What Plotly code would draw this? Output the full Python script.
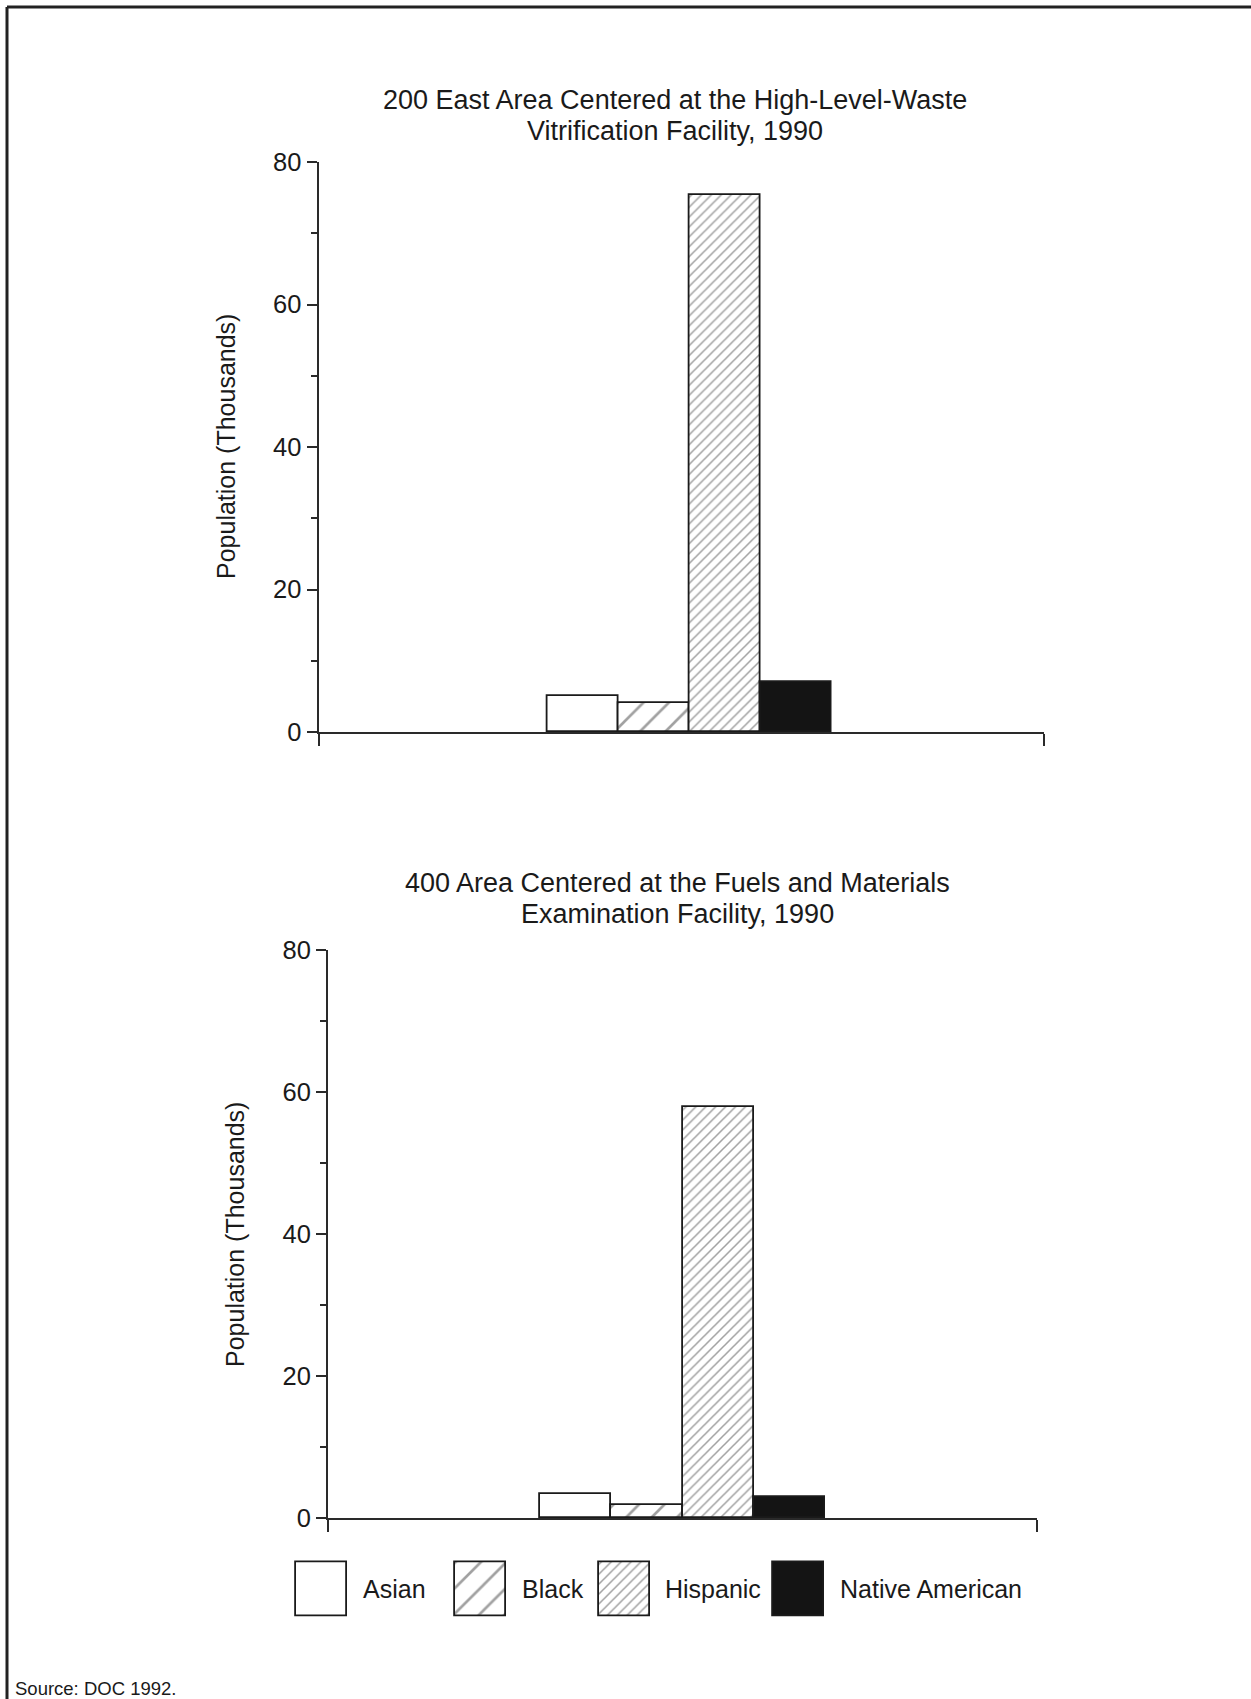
import plotly.graph_objects as go

# ---------------- data ----------------
CATEGORIES = ["Asian", "Black", "Hispanic", "Native American"]
TOP_VALUES = [5.1, 4.1, 75.3, 7.0]       # thousands, 200 East Area
BOTTOM_VALUES = [3.4, 1.8, 57.9, 2.9]    # thousands, 400 Area
Y_TICKS = [0, 20, 40, 60, 80]
TOP_TITLE = ["200 East Area Centered at the High-Level-Waste",
             "Vitrification Facility, 1990"]
BOTTOM_TITLE = ["400 Area Centered at the Fuels and Materials",
                "Examination Facility, 1990"]
Y_TITLE = "Population (Thousands)"
SOURCE = "Source: DOC 1992."

# ---------------- styles ----------------
W, H = 1251, 1699
FONT = "Liberation Sans, Arial, Helvetica, sans-serif"
TXT = "#1a1a1a"
AX = "#2a2a2a"
FILL = ["white", "white", "white", "#141414"]
PAT_SHAPE = ["", "/", "/", ""]
PAT_SIZE = [10, 18, 7, 10]
PAT_SOLID = [0.2, 0.15, 0.22, 0.2]
PAT_FG = ["#000", "#000", "#2a2a2a", "#000"]


def marker():
    return dict(
        color=FILL,
        line=dict(color="#1a1a1a", width=1.8),
        pattern=dict(shape=PAT_SHAPE, size=PAT_SIZE, solidity=PAT_SOLID,
                     fgcolor=PAT_FG, fillmode="overlay"),
    )


fig = go.Figure()
fig.add_trace(go.Bar(x=CATEGORIES, y=TOP_VALUES, marker=marker(),
                     xaxis="x", yaxis="y", showlegend=False))
fig.add_trace(go.Bar(x=CATEGORIES, y=BOTTOM_VALUES, marker=marker(),
                     xaxis="x2", yaxis="y2", showlegend=False))

# legend drawn as a small strip of swatches
LEGEND_CENTERS = [321, 480.5, 624.5, 798.5]   # px (layout)
LEGEND_LABEL_X = [361, 520, 663, 838]         # px (layout)
fig.add_trace(go.Bar(x=LEGEND_CENTERS, y=[1] * len(CATEGORIES), width=51,
                     marker=marker(), xaxis="x3", yaxis="y3", showlegend=False,
                     hoverinfo="skip", cliponaxis=False))


def px_x(p):
    return p / W


def px_y(p):
    return 1 - p / H


def xaxis(domain, rng):
    return dict(domain=domain, range=rng, showline=True, linecolor=AX, linewidth=2,
                showgrid=False, zeroline=False, ticks="outside", ticklen=12,
                tickwidth=2, tickcolor=AX, tickmode="array", tickvals=rng,
                showticklabels=False, fixedrange=True, automargin=False)


def yaxis(domain, anchor):
    return dict(domain=domain, range=[0, 80], anchor=anchor, showline=True,
                linecolor=AX, linewidth=2, showgrid=False, zeroline=False,
                ticks="outside", ticklen=10, tickwidth=1.5, tickcolor=AX,
                tickmode="array", tickvals=Y_TICKS, ticklabelstandoff=0,
                tickfont=dict(family=FONT, size=25.5, color=TXT),
                minor=dict(ticks="outside", ticklen=6, tickwidth=1.5,
                           tickcolor=AX, dtick=10, tick0=0, showgrid=False),
                fixedrange=True, automargin=False)


fig.update_layout(
    width=W, height=H, autosize=False, margin=dict(l=0, r=0, t=0, b=0, pad=0),
    paper_bgcolor="white", plot_bgcolor="rgba(0,0,0,0)",
    barmode="overlay", bargap=0, showlegend=False,
    font=dict(family=FONT, color=TXT, size=25),
    xaxis=xaxis([px_x(318.5), px_x(1044)], [-3.725, 6.5]) | dict(anchor="y"),
    yaxis=yaxis([px_y(732), px_y(162)], "x"),
    xaxis2=xaxis([px_x(328), px_x(1037)], [-3.465, 6.465]) | dict(anchor="y2"),
    yaxis2=yaxis([px_y(1518), px_y(950)], "x2"),
    xaxis3=dict(domain=[0, 1], range=[0, W], visible=False, anchor="y3",
                fixedrange=True, automargin=False),
    yaxis3=dict(domain=[px_y(1618.7), px_y(1559.3)], range=[-0.05, 1.05], visible=False,
                anchor="x3", fixedrange=True, automargin=False),
)

ann = []
for txt, yy in zip(TOP_TITLE, [99.5, 131]):
    ann.append(dict(text=txt, x=px_x(675), y=px_y(yy), xref="paper", yref="paper",
                    showarrow=False, font=dict(size=27), xanchor="center", yanchor="middle"))
for txt, yy in zip(BOTTOM_TITLE, [883, 914]):
    ann.append(dict(text=txt, x=px_x(677), y=px_y(yy), xref="paper", yref="paper",
                    showarrow=False, font=dict(size=27), xanchor="center", yanchor="middle"))
ann.append(dict(text=Y_TITLE, x=px_x(226), y=px_y(447), xref="paper", yref="paper",
                showarrow=False, textangle=-90, font=dict(size=25),
                xanchor="center", yanchor="middle"))
ann.append(dict(text=Y_TITLE, x=px_x(235), y=px_y(1234), xref="paper", yref="paper",
                showarrow=False, textangle=-90, font=dict(size=25),
                xanchor="center", yanchor="middle"))
for lx, lab in zip(LEGEND_LABEL_X, CATEGORIES):
    ann.append(dict(text=lab, x=px_x(lx), y=px_y(1589), xref="paper", yref="paper",
                    showarrow=False, font=dict(size=25), xanchor="left", yanchor="middle"))
ann.append(dict(text=SOURCE, x=px_x(13), y=px_y(1688), xref="paper", yref="paper",
                showarrow=False, font=dict(size=18.5), xanchor="left", yanchor="middle"))
fig.update_layout(annotations=ann)

# page frame (top and left edges)
fig.add_shape(type="line", xref="paper", yref="paper", x0=px_x(7), x1=1, y0=px_y(7), y1=px_y(7),
              line=dict(color="#222", width=3))
fig.add_shape(type="line", xref="paper", yref="paper", x0=px_x(7), x1=px_x(7), y0=px_y(7), y1=0,
              line=dict(color="#222", width=3))

fig.write_html("out.html", config=dict(displayModeBar=False, responsive=False),
               post_script="document.body.style.margin='0';document.body.style.overflow='hidden';")
